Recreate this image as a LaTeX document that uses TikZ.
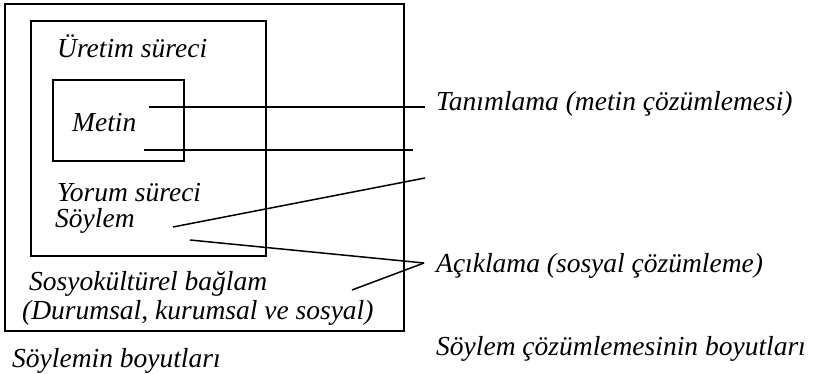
\documentclass[tikz,border=0pt]{standalone}
\usepackage{fontspec}
\setmainfont{Liberation Serif}
\begin{document}
\begin{tikzpicture}[x=1pt,y=-1pt,
 box/.style={draw,line width=1.9pt,inner sep=0pt},
 lbl/.style={font=\fontsize{27.5}{30}\selectfont\itshape,inner sep=0pt,anchor=west},
 link/.style={line width=1.5pt}]
\useasboundingbox (0,0) rectangle (815,374);
\node[box,minimum width=399pt,minimum height=327pt] at (204.5,167.5) (outer) {};
\node[box,minimum width=235pt,minimum height=235pt] at (148.5,138.5) (middle) {};
\node[box,minimum width=131pt,minimum height=81pt] at (118.5,120.5) (inner) {};

\node[lbl] at (57,46)	(uretim) {Üretim süreci};
\node[lbl] at (72,123)	(metin) {Metin};
\node[lbl] at (57,193)	(yorum) {Yorum süreci};
\node[lbl] at (55,221)	(soylem) {Söylem};
\node[lbl] at (29,284)	(baglam) {Sosyokültürel bağlam};
\node[lbl] at (22,313)	(durum) {(Durumsal, kurumsal ve sosyal)};
\node[lbl] at (12,361)	(boyut) {Söylemin boyutları};
\node[lbl] at (436,104)	(tanim) {Tanımlama (metin çözümlemesi)};
\node[lbl] at (436,266)	(acik) {Açıklama (sosyal çözümleme)};
\node[lbl] at (436,349)	(cozum) {Söylem çözümlemesinin boyutları};

\coordinate (a1) at (149,107);
\coordinate (b1) at (425,107);
\coordinate (a2) at (144,150);
\coordinate (b2) at (413,150);
\coordinate (a3) at (173,227);
\coordinate (b3) at (425,178);
\coordinate (a4) at (190,240);
\coordinate (a5) at (352,290);
\coordinate (b4) at (424,263);

\draw[link] (a1) -- (b1);
\draw[link] (a2) -- (b2);
\draw[link] (a3) -- (b3);
\draw[link] (a4) -- (b4);
\draw[link] (a5) -- (b4);
\end{tikzpicture}
\end{document}
